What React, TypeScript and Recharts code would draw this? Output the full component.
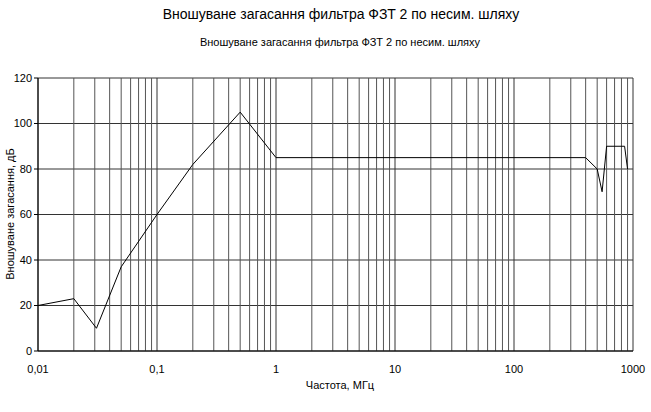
import { LineChart, Line, XAxis, YAxis, ReferenceLine, CartesianGrid } from "recharts";

const frequencies = [0.01, 0.02, 0.031, 0.05, 0.1, 0.2, 0.5, 1, 400, 500, 550, 600, 850, 900];
const attenuation = [20, 23, 10, 37, 60, 82, 105, 85, 85, 80, 70, 90, 90, 80];

const xTicks = [0.01, 0.1, 1, 10, 100, 1000];
const yTicks = [0, 20, 40, 60, 80, 100, 120];
const decades = [0.01, 0.1, 1, 10, 100];
const minorSteps = [2, 3, 4, 5, 6, 7, 8, 9];

const data = frequencies.map((f, i) => ({ f, v: attenuation[i] }));

const minorLines = decades.flatMap((d) => minorSteps.map((m) => +(d * m).toPrecision(3)));

const font = "'Liberation Sans', Arial, sans-serif";
const fmt = (v: number) => String(v).replace(".", ",");

export default function App() {
  return (
    <div style={{ position: "absolute", left: 0, top: 0, width: 651, height: 412, background: "#fff", fontFamily: font }}>
      <div style={{ position: "absolute", left: 0, width: 682, top: 6, textAlign: "center", fontSize: 14, color: "#000" }}>
        Вношуване загасання фильтра ФЗТ 2 по несим. шляху
      </div>
      <LineChart width={651} height={412} data={data} margin={{ top: 78, right: 18, bottom: 31, left: 8 }}>
        <CartesianGrid vertical={false} stroke="#333" strokeDasharray="" />
        {minorLines.map((x) => (
          <ReferenceLine key={x} x={x} stroke="#555" strokeWidth={1} ifOverflow="hidden" />
        ))}
        {xTicks.map((x) => (
          <ReferenceLine key={"d" + x} x={x} stroke="#333" strokeWidth={1} />
        ))}
        <XAxis
          dataKey="f"
          type="number"
          scale="log"
          domain={[0.01, 1000]}
          ticks={xTicks}
          tickFormatter={fmt}
          allowDataOverflow
          stroke="#000"
          tickLine={false}
          tick={{ fill: "#000", fontSize: 11, fontFamily: font }}
          tickMargin={8}
          height={30}
        />
        <YAxis
          type="number"
          domain={[0, 120]}
          ticks={yTicks}
          stroke="#000"
          tickSize={4}
          tick={{ fill: "#000", fontSize: 11, fontFamily: font }}
          width={30}
        />
        <Line type="linear" dataKey="v" stroke="#000" strokeWidth={1} dot={false} isAnimationActive={false} />
        <text x={340} y={46} textAnchor="middle" fontSize={11} fontFamily={font} fill="#000">
          Вношуване загасання фильтра ФЗТ 2 по несим. шляху
        </text>
        <text x={340} y={389} textAnchor="middle" fontSize={11} fontFamily={font} fill="#000">
          Частота, МГц
        </text>
        <text
          x={14}
          y={214}
          textAnchor="middle"
          fontSize={11}
          fontFamily={font}
          fill="#000"
          transform="rotate(-90 14 214)"
        >
          Вношуване загасання, дБ
        </text>
      </LineChart>
    </div>
  );
}
